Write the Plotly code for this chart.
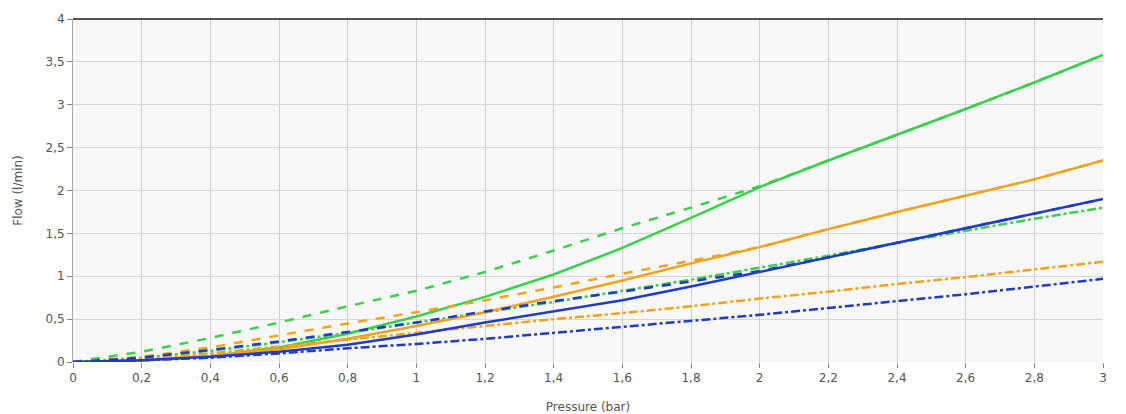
import plotly.graph_objects as go

pressure = [0, 0.2, 0.4, 0.6, 0.8, 1.0, 1.2, 1.4, 1.6, 1.8, 2.0, 2.2, 2.4, 2.6, 2.8, 3.0]

green_solid = [0, 0.02, 0.07, 0.17, 0.33, 0.53, 0.76, 1.02, 1.33, 1.68, 2.04, 2.35, 2.65, 2.95, 3.26, 3.58]
green_dash = [0, 0.12, 0.28, 0.46, 0.65, 0.83, 1.05, 1.30, 1.56, 1.80, 2.05, 2.35, 2.65, 2.95, 3.26, 3.58]
green_dashdot = [0, 0.05, 0.13, 0.23, 0.34, 0.46, 0.58, 0.70, 0.83, 0.96, 1.10, 1.24, 1.39, 1.53, 1.67, 1.80]

orange_solid = [0, 0.02, 0.07, 0.15, 0.27, 0.42, 0.58, 0.76, 0.95, 1.15, 1.34, 1.55, 1.75, 1.94, 2.13, 2.35]
orange_dash = [0, 0.06, 0.17, 0.31, 0.45, 0.58, 0.72, 0.87, 1.03, 1.18, 1.34, 1.55, 1.75, 1.94, 2.13, 2.35]
orange_dashdot = [0, 0.04, 0.10, 0.18, 0.26, 0.34, 0.42, 0.50, 0.57, 0.65, 0.74, 0.82, 0.91, 0.99, 1.08, 1.17]

blue_solid = [0, 0.02, 0.06, 0.12, 0.20, 0.32, 0.46, 0.59, 0.72, 0.88, 1.05, 1.22, 1.39, 1.56, 1.73, 1.90]
blue_dash = [0, 0.05, 0.14, 0.24, 0.35, 0.46, 0.59, 0.71, 0.82, 0.94, 1.06, 1.22, 1.39, 1.56, 1.73, 1.90]
blue_dashdot = [0, 0.02, 0.05, 0.10, 0.16, 0.21, 0.27, 0.34, 0.41, 0.48, 0.55, 0.63, 0.71, 0.79, 0.88, 0.97]

x_ticks = [0, 0.2, 0.4, 0.6, 0.8, 1.0, 1.2, 1.4, 1.6, 1.8, 2.0, 2.2, 2.4, 2.6, 2.8, 3.0]
x_tick_labels = ["0", "0,2", "0,4", "0,6", "0,8", "1", "1,2", "1,4", "1,6", "1,8", "2", "2,2", "2,4", "2,6", "2,8", "3"]
y_ticks = [0, 0.5, 1, 1.5, 2, 2.5, 3, 3.5, 4]
y_tick_labels = ["0", "0,5", "1", "1,5", "2", "2,5", "3", "3,5", "4"]

GREEN = "#3ad04c"
ORANGE = "#f2a31b"
BLUE = "#1f3cc4"

series = [
    (green_dashdot, GREEN, "dashdot"),
    (green_dash, GREEN, "dash"),
    (green_solid, GREEN, "solid"),
    (orange_dashdot, ORANGE, "dashdot"),
    (orange_dash, ORANGE, "dash"),
    (orange_solid, ORANGE, "solid"),
    (blue_dashdot, BLUE, "dashdot"),
    (blue_dash, BLUE, "dash"),
    (blue_solid, BLUE, "solid"),
]

fig = go.Figure()
for ys, col, dash in series:
    fig.add_trace(go.Scatter(x=pressure, y=ys, mode="lines",
                             line=dict(color=col, width=2.5, dash=dash),
                             showlegend=False, hoverinfo="skip"))

font_family = "DejaVu Sans, Verdana, sans-serif"
fig.update_layout(
    width=1126, height=414,
    margin=dict(l=65, r=31, t=11, b=60),
    paper_bgcolor="white",
    plot_bgcolor="#f8f8f8",
    font=dict(family=font_family, size=12, color="#555555"),
    showlegend=False,
)
fig.update_xaxes(
    range=[0, 3], tickvals=x_ticks, ticktext=x_tick_labels,
    showgrid=True, gridcolor="#cfcfcf", gridwidth=1,
    zeroline=False, showline=False,
    ticks="outside", ticklen=5, tickcolor="#888888",
    automargin=False,
    title=dict(text="Pressure (bar)", standoff=18, font=dict(size=12, color="#555555")),
)
fig.update_yaxes(
    range=[0, 4], tickvals=y_ticks, ticktext=y_tick_labels,
    showgrid=True, gridcolor="#d6d6d6", gridwidth=1,
    zeroline=False, showline=True, linecolor="#aaaaaa", linewidth=1,
    ticks="outside", ticklen=5, tickcolor="#888888",
    automargin=False,
    title=dict(text="Flow (l/min)", standoff=20, font=dict(size=12, color="#555555")),
)
fig.add_shape(type="line", xref="paper", yref="paper", x0=0, x1=1, y0=1, y1=1,
              line=dict(color="#555555", width=2))

fig.write_html("out.html")
